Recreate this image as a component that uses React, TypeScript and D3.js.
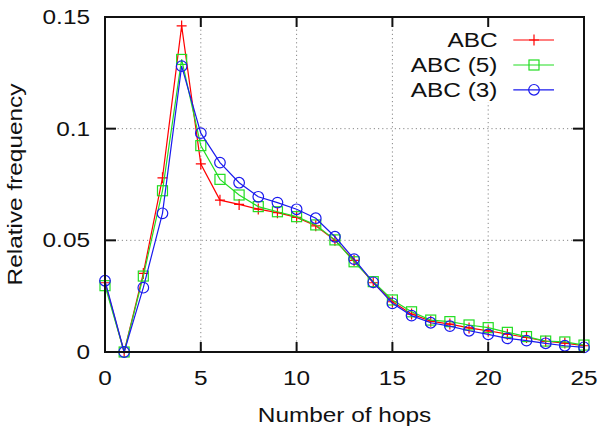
import React from "react";
import * as d3 from "d3";

const hops: number[] = Array.from({ length: 26 }, (_, i) => i);
const abc: number[] = [0.031, 0, 0.0352, 0.078, 0.146, 0.0842, 0.068, 0.0661, 0.064, 0.0624, 0.0603, 0.0565, 0.050, 0.041, 0.031, 0.0225, 0.017, 0.0138, 0.0125, 0.0108, 0.0095, 0.008, 0.0065, 0.0048, 0.004, 0.0028];
const abc5: number[] = [0.0297, 0, 0.034, 0.0722, 0.131, 0.0924, 0.0773, 0.0703, 0.0651, 0.0628, 0.0606, 0.0569, 0.0502, 0.0404, 0.0315, 0.0233, 0.018, 0.0143, 0.0136, 0.0121, 0.0109, 0.0088, 0.0069, 0.0049, 0.0045, 0.0031];
const abc3: number[] = [0.0319, 0, 0.0288, 0.0621, 0.128, 0.098, 0.0848, 0.0758, 0.0695, 0.0669, 0.0639, 0.0599, 0.0516, 0.0416, 0.0312, 0.0218, 0.0163, 0.0131, 0.0116, 0.0095, 0.0079, 0.0061, 0.0051, 0.0039, 0.0028, 0.0021];
const seriesNames: string[] = ["ABC", "ABC (5)", "ABC (3)"];
const xTicks: number[] = [0, 5, 10, 15, 20, 25];
const yTicks: number[] = [0, 0.05, 0.1, 0.15];
const yTickLabels: string[] = ["0", "0.05", "0.1", "0.15"];

const colors = ["#ff0000", "#22dd22", "#1a1aee"];
const markers = ["plus", "square", "circle"];

const W = 601, H = 430;
const L = 105, R = 584, T = 17, B = 352;
const FONT = "'Liberation Sans', Arial, Helvetica, sans-serif";
const FS = 19.5;
const SX = 1.25;

function Txt({ x, y, anchor = "start", rot = 0, children }: any) {
  return (
    <text
      transform={`translate(${x},${y}) rotate(${rot}) scale(${SX},1)`}
      textAnchor={anchor}
      fontFamily={FONT}
      fontSize={FS}
      fill="#111"
    >
      {children}
    </text>
  );
}

function Marker({ kind, x, y, color }: any) {
  if (kind === "plus")
    return <path d={`M${x - 5},${y}H${x + 5}M${x},${y - 5.5}V${y + 5.5}`} stroke={color} strokeWidth={1.2} fill="none" />;
  if (kind === "square")
    return <rect x={x - 5} y={y - 5} width={10} height={10} stroke={color} strokeWidth={1.2} fill="none" />;
  return <circle cx={x} cy={y} r={5.3} stroke={color} strokeWidth={1.2} fill="none" />;
}

export default function App() {
  const x = d3.scaleLinear().domain([0, 25]).range([L, R]);
  const y = d3.scaleLinear().domain([0, 0.15]).range([B, T]);
  const series = [abc, abc5, abc3];
  const line = d3
    .line<number>()
    .x((_, i) => x(hops[i]))
    .y((d) => y(d));

  const legX = 497.5;
  const legRows = [47.3, 72.3, 96.8];
  const legLineY = [40, 65, 89.8];

  return (
    <svg width={W} height={H} style={{ position: "absolute", left: 0, top: 0, background: "#fff" }}>
      <rect x={0} y={0} width={W} height={H} fill="#fff" />
      {/* grid */}
      {xTicks.filter((t) => t > 0 && t < 25).map((t) => (
        <line key={"gx" + t} x1={x(t)} x2={x(t)} y1={T} y2={B} stroke="#888" strokeWidth={1} strokeDasharray="1.2,3" />
      ))}
      {yTicks.filter((t) => t > 0 && t < 0.15).map((t) => (
        <line key={"gy" + t} x1={L} x2={R} y1={y(t)} y2={y(t)} stroke="#888" strokeWidth={1} strokeDasharray="1.2,3" />
      ))}
      {/* series */}
      {series.map((s, si) => (
        <g key={"s" + si}>
          <path d={line(s) || ""} fill="none" stroke={colors[si]} strokeWidth={1.2} />
          {s.map((v, i) => (
            <Marker key={i} kind={markers[si]} x={x(hops[i])} y={y(v)} color={colors[si]} />
          ))}
        </g>
      ))}
      {/* legend */}
      <rect x={415} y={19} width={146} height={83} fill="#fff" />
      {seriesNames.map((n, i) => (
        <g key={"l" + i}>
          <Txt x={legX} y={legRows[i]} anchor="end">{n}</Txt>
          <line x1={513.3} x2={554} y1={legLineY[i]} y2={legLineY[i]} stroke={colors[i]} strokeWidth={1.2} />
          <Marker kind={markers[i]} x={534} y={legLineY[i]} color={colors[i]} />
        </g>
      ))}
      {/* border */}
      <rect x={L} y={T} width={R - L} height={B - T} fill="none" stroke="#111" strokeWidth={2} />
      {/* ticks */}
      {xTicks.filter((t) => t > 0 && t < 25).map((t) => (
        <g key={"tx" + t}>
          <line x1={x(t)} x2={x(t)} y1={B} y2={B - 10} stroke="#111" strokeWidth={2} />
          <line x1={x(t)} x2={x(t)} y1={T} y2={T + 10} stroke="#111" strokeWidth={2} />
        </g>
      ))}
      {yTicks.filter((t) => t > 0 && t < 0.15).map((t) => (
        <g key={"ty" + t}>
          <line x1={L} x2={L + 11} y1={y(t)} y2={y(t)} stroke="#111" strokeWidth={2} />
          <line x1={R} x2={R - 11} y1={y(t)} y2={y(t)} stroke="#111" strokeWidth={2} />
        </g>
      ))}
      {/* tick labels */}
      {xTicks.map((t) => (
        <Txt key={"lx" + t} x={x(t)} y={385} anchor="middle">{String(t)}</Txt>
      ))}
      {yTicks.map((t, i) => (
        <Txt key={"ly" + t} x={90} y={y(t) + 7} anchor="end">{yTickLabels[i]}</Txt>
      ))}
      {/* axis titles */}
      <Txt x={(L + R) / 2} y={421.7} anchor="middle">Number of hops</Txt>
      <Txt x={22.3} y={(T + B) / 2} anchor="middle" rot={-90}>Relative frequency</Txt>
    </svg>
  );
}
